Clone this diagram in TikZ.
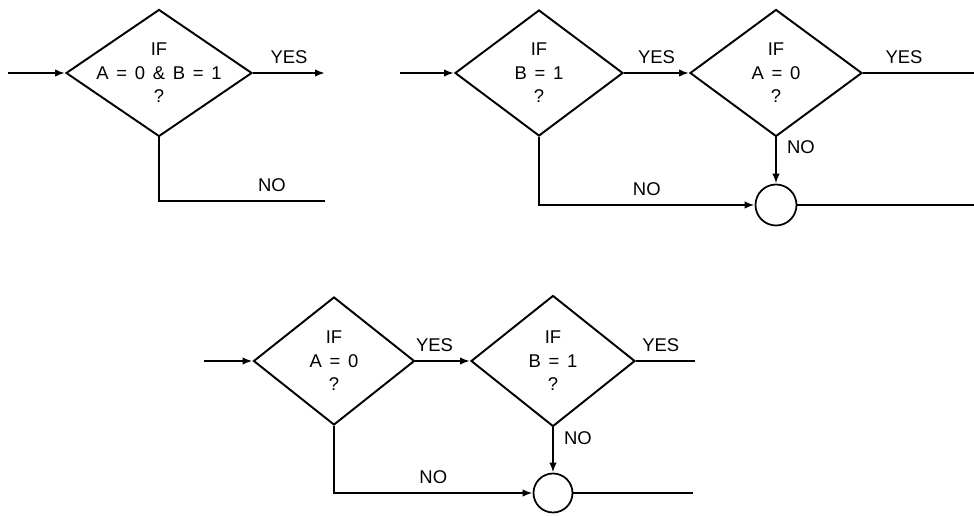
\documentclass[tikz,border=0pt]{standalone}
\usepackage{fontspec}
\setmainfont{Liberation Sans}[WordSpace=1.5]
\usetikzlibrary{shapes.geometric,arrows.meta}

\begin{document}
\begin{tikzpicture}[x=0.2mm, y=-0.2mm,
  decision/.style={diamond, draw=black, line width=1.1pt, align=center, inner sep=0pt, font=\fontsize{10.5}{13.4}\selectfont},
  junction/.style={circle, draw=black, line width=1pt, inner sep=0pt},
  flow/.style={line width=1.6pt},
  arr/.style={flow, -{Latex[length=2mm, width=1.5mm]}},
  lbl/.style={font=\fontsize{10.5}{12}\selectfont, inner sep=1.5pt}]
\useasboundingbox (0,0) rectangle (974,516);

% one test for both conditions
\node[decision, minimum width=3.72cm, minimum height=2.54cm] (ab1) at (159,73) {IF\\\makebox[0pt]{A = 0 \& B = 1}\\?};
\coordinate (in1) at (8,73);
\coordinate (yes1) at (325,73);
\coordinate (no1) at (325,201);
\draw[arr] (in1) -- (ab1.west);
\draw[arr] (ab1.east) -- node[lbl, above=3pt] {YES} (yes1);
\draw[flow] (ab1.south) |- node[lbl, above=3pt, pos=0.84] {NO} (no1);

% B first, then A
\node[decision, minimum width=3.36cm, minimum height=2.52cm] (b2) at (539,73) {IF\\B = 1\\?};
\node[decision, minimum width=3.44cm, minimum height=2.54cm] (a2) at (776,73) {IF\\A = 0\\?};
\node[junction, minimum size=0.82cm] (j2) at (776,205) {};
\coordinate (in2) at (400,73);
\coordinate (yes2) at (974,73);
\coordinate (out2) at (974,205);
\draw[arr] (in2) -- (b2.west);
\draw[arr] (b2.east) -- node[lbl, above=3pt] {YES} (a2.west);
\draw[flow] (a2.east) -- node[lbl, above=3pt, pos=0.37] {YES} (yes2);
\draw[arr] (a2.south) -- node[lbl, right=4pt, pos=0.2] {NO} (j2.north);
\draw[arr] (b2.south) |- node[lbl, above=3pt, pos=0.75] {NO} (j2.west);
\draw[flow] (j2.east) -- (out2);

% A first, then B
\node[decision, minimum width=3.22cm, minimum height=2.56cm] (a3) at (334,361) {IF\\A = 0\\?};
\node[decision, minimum width=3.28cm, minimum height=2.62cm] (b3) at (553,361) {IF\\B = 1\\?};
\node[junction, minimum size=0.78cm] (j3) at (553,493) {};
\coordinate (in3) at (204,361);
\coordinate (yes3) at (695,361);
\coordinate (out3) at (693,493);
\draw[arr] (in3) -- (a3.west);
\draw[arr] (a3.east) -- node[lbl, above=3pt, pos=0.35] {YES} (b3.west);
\draw[flow] (b3.east) -- node[lbl, above=3pt, pos=0.42] {YES} (yes3);
\draw[arr] (b3.south) -- node[lbl, right=4pt, pos=0.23] {NO} (j3.north);
\draw[arr] (a3.south) |- node[lbl, above=3pt, pos=0.75] {NO} (j3.west);
\draw[flow] (j3.east) -- (out3);
\end{tikzpicture}
\end{document}
